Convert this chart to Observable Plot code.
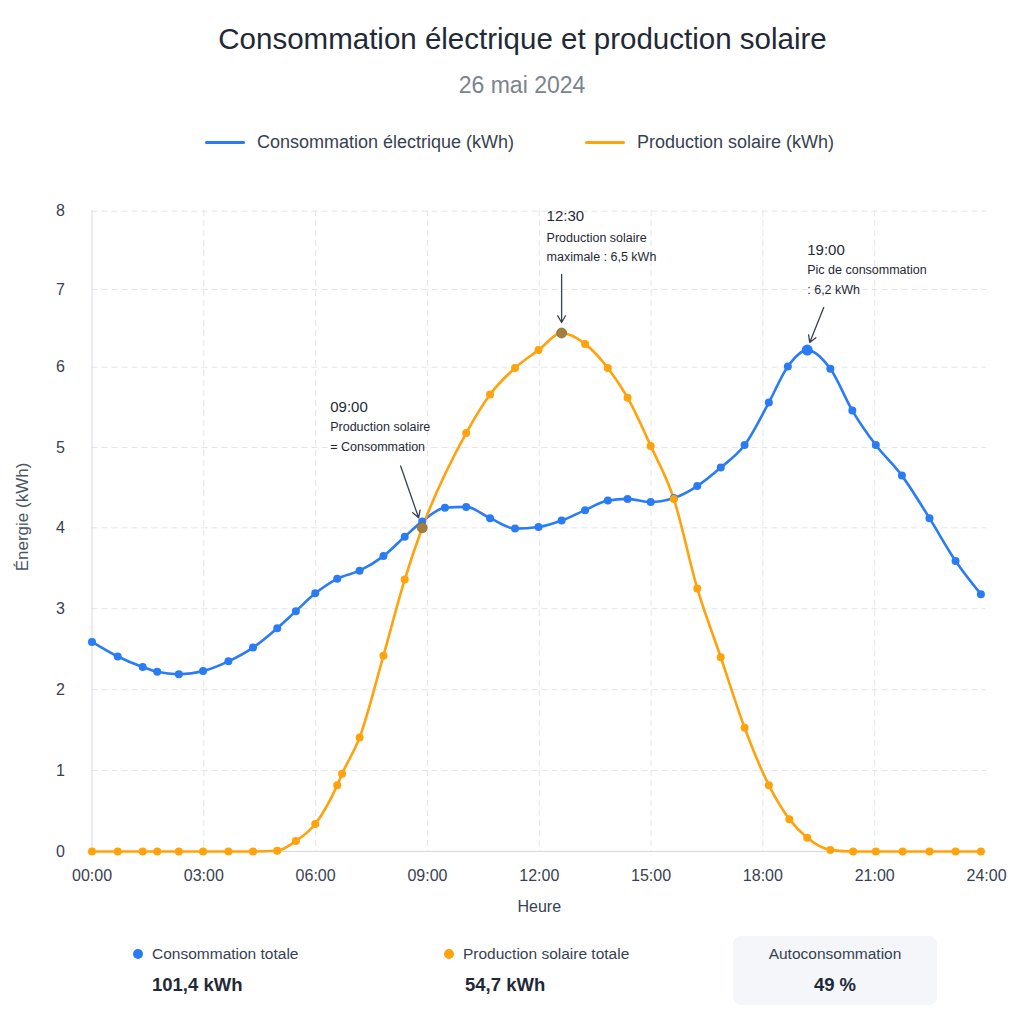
<!DOCTYPE html>
<html lang="fr">
<head>
<meta charset="utf-8">
<script src="https://cdn.jsdelivr.net/npm/d3@7"></script>
<script src="https://cdn.jsdelivr.net/npm/@observablehq/plot@0.6"></script>
<style>
  html, body { margin: 0; padding: 0; background: #ffffff; }
  body { font-family: "Liberation Sans", Arial, Helvetica, sans-serif; }
  #page { position: relative; width: 1024px; height: 1024px; overflow: hidden; background: #fff; }
  .abs { position: absolute; white-space: nowrap; }
  #title { left: 0; width: 1045px; top: 22px; text-align: center; font-size: 29.5px; color: #1f2937; }
  #subtitle { left: 0; width: 1044px; top: 72px; text-align: center; font-size: 23px; color: #7b8390; }
  .leg { top: 132px; font-size: 18px; color: #374151; display: flex; align-items: center; }
  .leg .sw { display: inline-block; width: 40px; height: 3px; border-radius: 2px; margin-right: 12px; }
  #chart { position: absolute; left: 0; top: 170px; }
  #ylabel { left: 23px; top: 517px; font-size: 17px; color: #4b5563; transform: translate(-50%, -50%) rotate(-90deg); }
  .stat-label { font-size: 15.5px; color: #374151; display: flex; align-items: center; }
  .stat-label .dot { display: inline-block; width: 10px; height: 10px; border-radius: 50%; margin-right: 9px; }
  .stat-value { font-size: 18.5px; font-weight: bold; color: #1f2937; }
  #box { left: 733px; top: 936px; width: 204px; height: 69px; background: #f4f6fa; border-radius: 8px; }
</style>
</head>
<body>
<div id="page">
  <div id="title" class="abs">Consommation électrique et production solaire</div>
  <div id="subtitle" class="abs">26 mai 2024</div>
  <div class="abs leg" style="left:205px"><span class="sw" id="sw1"></span><span id="leg1"></span></div>
  <div class="abs leg" style="left:585px"><span class="sw" id="sw2"></span><span id="leg2"></span></div>
  <div id="chart"></div>
  <div id="ylabel" class="abs">Énergie (kWh)</div>
  <div id="box" class="abs"></div>
  <div class="abs stat-label" style="left:133px; top:945px"><span class="dot" id="d1"></span><span id="s1l"></span></div>
  <div class="abs stat-value" style="left:152px; top:974px" id="s1v"></div>
  <div class="abs stat-label" style="left:444px; top:945px"><span class="dot" id="d2"></span><span id="s2l"></span></div>
  <div class="abs stat-value" style="left:465px; top:974px" id="s2v"></div>
  <div class="abs stat-label" style="left:733px; width:204px; top:945px; justify-content:center" id="s3l"></div>
  <div class="abs stat-value" style="left:733px; width:204px; top:974px; text-align:center" id="s3v"></div>
</div>
<script>
// ---------- Data ----------
const seriesNames = ["Consommation électrique (kWh)", "Production solaire (kWh)"];
const seriesColors = ["#2a7cf6", "#ffa20c"];

// Consumption: time in hours, value in kWh
const consTimes = [0.00, 0.69, 1.36, 1.75, 2.33, 2.98, 3.66, 4.32, 4.97, 5.47, 5.99, 6.58, 7.18, 7.82, 8.39, 8.86,
  9.47, 10.04, 10.68, 11.35, 11.98, 12.60, 13.23, 13.84, 14.37, 14.99, 15.61, 16.24, 16.87, 17.51, 18.16, 18.67,
  19.19, 19.81, 20.40, 21.03, 21.73, 22.47, 23.17, 23.85];
const consValues = [2.59, 2.41, 2.28, 2.22, 2.19, 2.23, 2.35, 2.52, 2.76, 2.97, 3.19, 3.37, 3.47, 3.65, 3.89, 4.08,
  4.25, 4.26, 4.12, 3.99, 4.01, 4.09, 4.22, 4.34, 4.36, 4.32, 4.37, 4.52, 4.75, 5.03, 5.56, 6.01,
  6.22, 5.98, 5.46, 5.03, 4.65, 4.12, 3.59, 3.18];

// Solar production
const solarTimes = [0.00, 0.69, 1.36, 1.75, 2.33, 2.98, 3.66, 4.32, 4.97, 5.47, 5.99, 6.58, 6.71, 7.18, 7.82, 8.39, 8.86,
  10.04, 10.68, 11.35, 11.98, 12.60, 13.23, 13.84, 14.37, 14.99, 15.61, 16.24, 16.87, 17.51, 18.16, 18.71,
  19.19, 19.81, 20.42, 21.03, 21.75, 22.47, 23.17, 23.85];
const solarValues = [0, 0, 0, 0, 0, 0, 0, 0, 0.01, 0.13, 0.34, 0.82, 0.96, 1.41, 2.42, 3.36, 4.00,
  5.18, 5.66, 5.99, 6.22, 6.44, 6.30, 5.99, 5.62, 5.02, 4.36, 3.25, 2.40, 1.53, 0.82, 0.40,
  0.17, 0.02, 0, 0, 0, 0, 0, 0];

// Axis ticks
const xTicks = [0, 3, 6, 9, 12, 15, 18, 21, 24];
const yTicks = [0, 1, 2, 3, 4, 5, 6, 7, 8];

// Annotations
const annotTimes = [8.86, 12.60, 19.19];
const annotValues = [4.00, 6.44, 6.22];
const annotTitles = ["09:00", "12:30", "19:00"];
const annotLine1 = ["Production solaire", "Production solaire", "Pic de consommation"];
const annotLine2 = ["= Consommation", "maximale : 6,5 kWh", ": 6,2 kWh"];
const annotHighlight = [true, true, false];

// Summary statistics
const statLabels = ["Consommation totale", "Production solaire totale", "Autoconsommation"];
const statValues = ["101,4 kWh", "54,7 kWh", "49 %"];

// ---------- Build ----------
const cons = consTimes.map((t, i) => ({t, v: consValues[i]}));
const solar = solarTimes.map((t, i) => ({t, v: solarValues[i]}));
const annots = annotTimes.map((t, i) => ({t, v: annotValues[i], title: annotTitles[i], l1: annotLine1[i], l2: annotLine2[i], hl: annotHighlight[i]}));

// text offsets (pixels) relative to each annotated point
const textOffsets = [[-92, -121], [-15, -117], [0, -100]];
const lineGaps = [[20, 40], [22, 41], [20, 40]];
// arrow start / end offsets in pixels relative to each annotated point
const arrowOffsets = [[-21.6, -62, -3.6, -10], [0, -58.5, 0, -10.5], [16.5, -42.6, 2.5, -7.6]];
const localPxPerV = [80.6, 77.7, 77.7];

const W = 1024, H = 760, mL = 91.5, mR = 38, mT = 40, mB = 79;
const pxPerH = (W - mL - mR) / 24;

const annotMarks = [];
annots.forEach((a, i) => {
  const [dx, dy] = textOffsets[i];
  annotMarks.push(Plot.text([a], {x: "t", y: "v", text: "title", dx, dy, textAnchor: "start", fontSize: 15, fill: "#1f2937"}));
  annotMarks.push(Plot.text([a], {x: "t", y: "v", text: "l1", dx, dy: dy + lineGaps[i][0], textAnchor: "start", fontSize: 12.5, fill: "#1f2937"}));
  annotMarks.push(Plot.text([a], {x: "t", y: "v", text: "l2", dx, dy: dy + lineGaps[i][1], textAnchor: "start", fontSize: 12.5, fill: "#1f2937"}));
  const [ax1, ay1, ax2, ay2] = arrowOffsets[i];
  const pv = localPxPerV[i];
  annotMarks.push(Plot.arrow([a], {
    x1: d => d.t + ax1 / pxPerH, y1: d => d.v - ay1 / pv,
    x2: d => d.t + ax2 / pxPerH, y2: d => d.v - ay2 / pv,
    stroke: "#374151", strokeWidth: 1.3, headLength: 9, bend: 0
  }));
});

const fmtHour = d => String(d).padStart(2, "0") + ":00";

const chart = Plot.plot({
  width: W, height: H,
  marginLeft: mL, marginRight: mR, marginTop: mT, marginBottom: mB,
  style: {fontFamily: "'Liberation Sans', Arial, sans-serif", fontSize: "16px", color: "#374151", background: "transparent", overflow: "visible"},
  x: {type: "linear", domain: [0, 24]},
  // gridline spacing as measured on the reference
  y: {type: "linear", domain: [0, 4, 6, 7, 8], range: [681, 357.3, 196.7, 119, 40.7]},
  marks: [
    Plot.gridX(xTicks.filter(d => d > 0 && d < 24), {stroke: "#e3e5ea", strokeOpacity: 1, strokeDasharray: "6,4"}),
    Plot.gridY(yTicks.filter(d => d > 0), {stroke: "#e3e5ea", strokeOpacity: 1, strokeDasharray: "6,4"}),
    Plot.ruleX([0], {stroke: "#d4d8e0"}),
    Plot.ruleY([0], {stroke: "#d4d8e0"}),
    Plot.axisX({ticks: xTicks, tickFormat: fmtHour, tickSize: 0, tickPadding: 18, fontSize: 16,
      label: "Heure", labelAnchor: "center", labelArrow: "none", labelOffset: 60}),
    Plot.axisY({ticks: yTicks, tickSize: 0, tickPadding: 27, fontSize: 16, label: null}),
    Plot.line(cons, {x: "t", y: "v", stroke: seriesColors[0], strokeWidth: 2.6, curve: "monotone-x"}),
    Plot.line(solar, {x: "t", y: "v", stroke: seriesColors[1], strokeWidth: 2.6, curve: "monotone-x"}),
    Plot.dot(cons, {x: "t", y: "v", r: 4, fill: seriesColors[0]}),
    Plot.dot(solar, {x: "t", y: "v", r: 4, fill: seriesColors[1]}),
    Plot.dot(annots.filter(a => !a.hl), {x: "t", y: "v", r: 5.5, fill: seriesColors[0]}),
    Plot.dot(annots.filter(a => a.hl), {x: "t", y: "v", r: 5, fill: "#a47d3f", stroke: "#8f6c36", strokeWidth: 0.8}),
    ...annotMarks
  ]
});
document.getElementById("chart").appendChild(chart);

// legend & stats text
document.getElementById("sw1").style.background = seriesColors[0];
document.getElementById("sw2").style.background = seriesColors[1];
document.getElementById("leg1").textContent = seriesNames[0];
document.getElementById("leg2").textContent = seriesNames[1];
document.getElementById("d1").style.background = seriesColors[0];
document.getElementById("d2").style.background = seriesColors[1];
document.getElementById("s1l").textContent = statLabels[0];
document.getElementById("s2l").textContent = statLabels[1];
document.getElementById("s3l").textContent = statLabels[2];
document.getElementById("s1v").textContent = statValues[0];
document.getElementById("s2v").textContent = statValues[1];
document.getElementById("s3v").textContent = statValues[2];
</script>
</body>
</html>
